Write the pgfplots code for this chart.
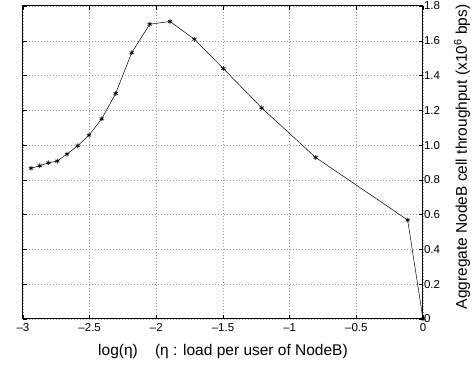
\documentclass[border=0pt]{standalone}
\usepackage{fontspec}
\setmainfont{Liberation Sans}
\usepackage{pgfplots}
\pgfplotsset{compat=1.18}
\begin{document}
\begin{tikzpicture}
\begin{axis}[
  scale only axis,
  width=400pt, height=313pt,
  xmin=-3, xmax=0, ymin=0, ymax=1.8,
  xtick={-3,-2.5,-2,-1.5,-1,-0.5,0},
  xticklabels={\textendash3,\textendash2.5,\textendash2,\textendash1.5,\textendash1,\textendash0.5,0},
  ytick={0,0.2,0.4,0.6,0.8,1.0,1.2,1.4,1.6,1.8},
  yticklabels={0,0.2,0.4,0.6,0.8,1.0,1.2,1.4,1.6,1.8},
  yticklabel pos=right,
  tick align=inside,
  tick pos=both,
  major tick length=4pt,
  grid=major,
  major grid style={dash pattern=on 0.8pt off 2.2pt, gray!80, line width=0.5pt},
  axis line style={line width=1pt},
  tick style={black, line width=0.5pt},
  /pgf/number format/assume math mode=true,
  ticklabel style={font=\fontsize{11.5}{13}\selectfont},
  xticklabel style={yshift=-1pt},
  yticklabel style={xshift=-2.5pt},
  label style={font=\fontsize{15.5}{18}\selectfont},
  xlabel={log(η)\ \ \ \ (η : load per user of NodeB)},
  ylabel={Aggregate NodeB cell throughput (x10\textsuperscript{6} bps)},
  xlabel style={at={(axis description cs:0.5,-0.1054)}, anchor=center},
  ylabel style={at={(axis description cs:1.0975,0.5176)}, anchor=center, rotate=0},
]
\addplot[black, line width=0.5pt, mark=asterisk, mark size=2.4pt, mark options={line width=0.7pt}] coordinates {
(-2.94,0.867) (-2.875,0.881) (-2.81,0.898) (-2.743,0.908) (-2.67,0.948)
(-2.59,0.996) (-2.505,1.057) (-2.41,1.151) (-2.305,1.297) (-2.185,1.531)
(-2.05,1.695) (-1.897,1.711) (-1.715,1.609) (-1.497,1.44) (-1.21,1.214)
(-0.805,0.929) (-0.115,0.569) (0,0)
};
\end{axis}
\pgfresetboundingbox
\path ([shift={(-23pt,-49pt)}]current axis.south west) rectangle ([shift={(49pt,6pt)}]current axis.north east);
\end{tikzpicture}
\end{document}
